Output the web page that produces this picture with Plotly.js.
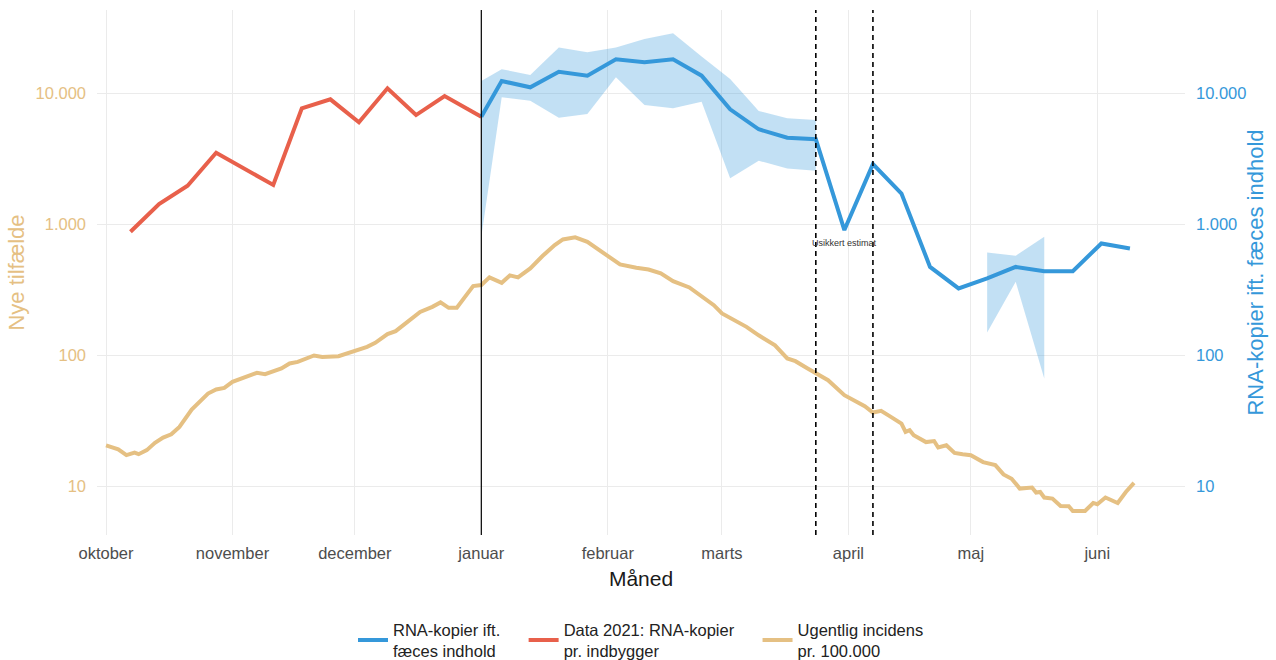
<!DOCTYPE html>
<html><head><meta charset="utf-8">
<script src="https://cdn.plot.ly/plotly-3.0.1.min.js"></script>
<style>html,body{margin:0;padding:0;background:#fff}#chart{width:1276px;height:660px}</style>
</head><body><div id="chart"></div>
<script>
// ---- data ----
const monthTicks = ['2021-10-01','2021-11-01','2021-12-01','2022-01-01','2022-02-01','2022-03-01','2022-04-01','2022-05-01','2022-06-01'];
const monthNames = ['oktober','november','december','januar','februar','marts','april','maj','juni'];
const yTickVals = [10, 100, 1000, 10000];
const yTickText = ['10', '100', '1.000', '10.000'];

const incDates = ['2021-10-01','2021-10-04','2021-10-06','2021-10-08','2021-10-09','2021-10-11','2021-10-13','2021-10-15','2021-10-17','2021-10-19',
 '2021-10-22','2021-10-26','2021-10-28','2021-10-30','2021-11-01','2021-11-04','2021-11-07','2021-11-09','2021-11-11','2021-11-13',
 '2021-11-15','2021-11-17','2021-11-21','2021-11-23','2021-11-27','2021-11-30','2021-12-04','2021-12-06','2021-12-09','2021-12-11',
 '2021-12-14','2021-12-17','2021-12-20','2021-12-22','2021-12-24','2021-12-26','2021-12-28','2021-12-30','2022-01-01','2022-01-03',
 '2022-01-06','2022-01-08','2022-01-10','2022-01-13','2022-01-16','2022-01-19','2022-01-21','2022-01-24','2022-01-27','2022-01-30',
 '2022-02-02','2022-02-04','2022-02-08','2022-02-11','2022-02-14','2022-02-17','2022-02-21','2022-02-24','2022-02-27','2022-03-01',
 '2022-03-04','2022-03-07','2022-03-10','2022-03-14','2022-03-17','2022-03-19','2022-03-22','2022-03-24','2022-03-27','2022-03-31',
 '2022-04-05','2022-04-07','2022-04-09','2022-04-11','2022-04-14','2022-04-15','2022-04-16','2022-04-17','2022-04-20','2022-04-22',
 '2022-04-23','2022-04-25','2022-04-27','2022-04-29','2022-05-01','2022-05-04','2022-05-07','2022-05-09','2022-05-11','2022-05-13',
 '2022-05-16','2022-05-17','2022-05-18','2022-05-19','2022-05-21','2022-05-23','2022-05-25','2022-05-26','2022-05-29','2022-05-31',
 '2022-06-01','2022-06-03','2022-06-04','2022-06-06','2022-06-08','2022-06-10'];
const incValues = [20.7,19.3,17.4,18.2,17.7,19.0,21.6,23.7,25.1,28.6,
 38.8,51.4,55.2,56.8,63.1,68.9,73.9,72.2,76.5,79.8,
 87.2,89.7,100.3,97.9,99.1,106.9,116.7,125.2,146,153.9,
 183.5,216,236,255,232,232,281,340,346,396,
 360,410,396,464,576,699,772,800,740,640,
 546,497,469,455,425,371,332,281,243,210,
 187,166,143,120,95.2,90.8,79.8,73.1,65.0,49.9,
 41.1,36.8,37.9,34.7,30.3,26.2,27.0,24.7,21.9,22.3,
 19.9,20.7,18.1,17.7,17.4,15.4,14.6,12.4,11.5,9.67,
 9.84,9.01,9.11,8.26,8.11,7.12,7.09,6.52,6.52,7.51,
 7.34,8.26,7.97,7.51,9.11,10.7];

const rna2021Dates = ['2021-10-07','2021-10-14','2021-10-21','2021-10-28','2021-11-11','2021-11-18','2021-11-25','2021-12-02','2021-12-09','2021-12-16','2021-12-23','2022-01-01'];
const rna2021Values = [883,1437,1983,3540,2010,7740,9060,6050,11000,6870,9600,6670];

const rnaDates = ['2022-01-01','2022-01-06','2022-01-13','2022-01-20','2022-01-27','2022-02-03','2022-02-10','2022-02-17','2022-02-24','2022-03-03',
 '2022-03-10','2022-03-17','2022-03-24','2022-03-31','2022-04-07','2022-04-14','2022-04-21','2022-04-28','2022-05-05','2022-05-12',
 '2022-05-19','2022-05-26','2022-06-02','2022-06-09'];
const rnaValues = [6670,12500,11190,14720,13730,18330,17380,18330,13730,7600,
 5350,4610,4490,910,2900,1730,476,326,389,476,
 442,442,719,659];

const ciDates1 = ['2022-01-01','2022-01-06','2022-01-13','2022-01-20','2022-01-27','2022-02-03','2022-02-10','2022-02-17','2022-02-24','2022-03-03','2022-03-10','2022-03-17','2022-03-24'];
const ciUpper1 = [12500,15400,13900,22500,20700,22500,26200,28900,19200,12950,7380,6490,6300];
const ciLower1 = [810,9390,8840,6560,7000,13340,8200,7740,8690,2260,3080,2690,2580];
const ciDates2 = ['2022-05-05','2022-05-12','2022-05-19'];
const ciUpper2 = [614,579,808];
const ciLower2 = [150,366,67];

const solidLineDates = ['2022-01-01'];
const dashedLineDates = ['2022-03-24','2022-04-07'];
const noteDate = '2022-03-31';
const noteValue = 727;
const noteText = 'Usikkert estimat';

// ---- styling ----
const FONT = 'Liberation Sans, Arial, Helvetica, sans-serif';
const BLUE = '#3598DA';
const RED = '#E8604B';
const TAN = '#E5C083';
const GRID = '#EBEBEB';
const NB = '\u00a0\u00a0\u00a0\u00a0';

function ribbon(segs) {
  const xs = [], ys = [];
  segs.forEach((s, i) => {
    if (i > 0) { xs.push(null); ys.push(null); }
    s.d.forEach((d, k) => { xs.push(d); ys.push(s.u[k]); });
    for (let k = s.d.length - 1; k >= 0; k--) { xs.push(s.d[k]); ys.push(s.l[k]); }
  });
  return {x: xs, y: ys};
}
const rib = ribbon([{d: ciDates1, u: ciUpper1, l: ciLower1}, {d: ciDates2, u: ciUpper2, l: ciLower2}]);

const traces = [
  {x: rib.x, y: rib.y, yaxis: 'y2', type: 'scatter', mode: 'lines', fill: 'toself', connectgaps: false,
   fillcolor: 'rgba(52,152,219,0.3)', line: {width: 0, color: 'rgba(0,0,0,0)'}, showlegend: false, hoverinfo: 'skip'},
  {x: incDates, y: incValues, yaxis: 'y', type: 'scatter', mode: 'lines', name: 'Ugentlig incidens<br>pr. 100.000',
   line: {color: TAN, width: 4}, legendrank: 3},
  {x: rna2021Dates, y: rna2021Values, yaxis: 'y2', type: 'scatter', mode: 'lines', name: 'Data 2021: RNA-kopier' + NB + '<br>pr. indbygger',
   line: {color: RED, width: 4}, legendrank: 2},
  {x: rnaDates, y: rnaValues, yaxis: 'y2', type: 'scatter', mode: 'lines', name: 'RNA-kopier ift.' + NB + '<br>fæces indhold',
   line: {color: BLUE, width: 4}, legendrank: 1}
];

const shapes = [];
solidLineDates.forEach(d => shapes.push({type: 'line', xref: 'x', yref: 'paper', x0: d, x1: d, y0: 0, y1: 1, line: {color: '#000', width: 1.2}}));
dashedLineDates.forEach(d => shapes.push({type: 'line', xref: 'x', yref: 'paper', x0: d, x1: d, y0: 0, y1: 1, line: {color: '#000', width: 1.6, dash: '5px,4px'}}));

const yRange = [0.631, 4.639];
const layout = {
  width: 1276, height: 660,
  margin: {l: 97, r: 91, t: 10, b: 125, autoexpand: false},
  paper_bgcolor: '#fff', plot_bgcolor: '#fff',
  font: {family: FONT, size: 16.5, color: '#333'},
  hovermode: false,
  showlegend: true,
  xaxis: {
    type: 'date', range: ['2021-09-28 19:00', '2022-06-22 12:00'],
    tickvals: monthTicks, ticktext: monthNames,
    showgrid: true, gridcolor: GRID, gridwidth: 1, zeroline: false, showline: false, ticks: '',
    tickfont: {family: FONT, size: 16.5, color: '#4D4D4D'},
    ticklabelstandoff: 6,
    title: {text: 'Måned', font: {family: FONT, size: 21, color: '#1A1A1A'}, standoff: 10},
    automargin: false
  },
  yaxis: {
    type: 'log', range: yRange, tickvals: yTickVals, ticktext: yTickText,
    showgrid: true, gridcolor: GRID, gridwidth: 1, zeroline: false, showline: false, ticks: '',
    tickfont: {family: FONT, size: 16.5, color: TAN},
    ticklabelstandoff: 10,
    title: {text: 'Nye tilfælde', font: {family: FONT, size: 22, color: TAN}, standoff: 4},
    automargin: false
  },
  yaxis2: {
    type: 'log', range: yRange, tickvals: yTickVals, ticktext: yTickText,
    overlaying: 'y', side: 'right',
    showgrid: false, zeroline: false, showline: false, ticks: '',
    tickfont: {family: FONT, size: 16.5, color: BLUE},
    ticklabelstandoff: 10,
    title: {text: 'RNA-kopier ift. fæces indhold', font: {family: FONT, size: 22, color: BLUE}, standoff: 2},
    automargin: false
  },
  legend: {
    orientation: 'h', x: 0.5, xanchor: 'center', y: -0.147, yanchor: 'top',
    font: {family: FONT, size: 16.5, color: '#222'}, itemwidth: 30,
    bgcolor: 'rgba(0,0,0,0)', traceorder: 'normal'
  },
  shapes: shapes,
  annotations: [{
    x: noteDate, y: Math.log10(noteValue), xref: 'x', yref: 'y2', text: noteText, showarrow: false,
    font: {family: FONT, size: 9, color: '#333'}, xanchor: 'center', yanchor: 'middle'
  }]
};

Plotly.newPlot('chart', traces, layout, {displayModeBar: false, staticPlot: true});
</script>
</body></html>
